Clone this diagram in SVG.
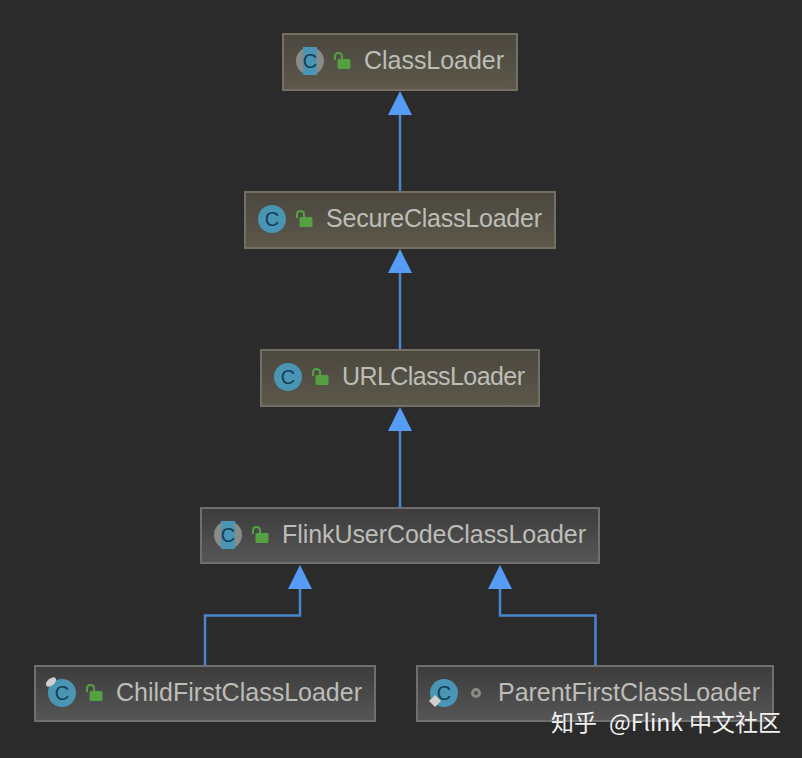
<svg xmlns="http://www.w3.org/2000/svg" width="802" height="758" viewBox="0 0 802 758">
<style>
.box{stroke-width:2}
.olive{fill:url(#olive);stroke:#736f62}
.grey{fill:url(#grey);stroke:#6f6f6f}
.label{font-family:"Liberation Sans","DejaVu Sans",sans-serif;font-size:25px;fill:#bdbdb7}
.c{font-family:"Liberation Sans",sans-serif;font-size:20px;fill:#123f57;text-anchor:middle}
.circ{fill:#4a95b3}
.conn{fill:none;stroke:#4a86cf;stroke-width:2.5}
.head{fill:#549cf5}
.lockb{fill:#55a043}
.locks{fill:none;stroke:#55a043;stroke-width:2}
.wm{font-family:"Noto Sans CJK SC","Noto Sans",sans-serif;font-size:23px;fill:#f2f2f2}
</style>
<defs>
<linearGradient id="olive" x1="0" y1="0" x2="0" y2="1"><stop offset="0" stop-color="#4a473f"/><stop offset="1" stop-color="#5c584b"/></linearGradient>
<linearGradient id="grey" x1="0" y1="0" x2="0" y2="1"><stop offset="0" stop-color="#3c3c3c"/><stop offset="1" stop-color="#565656"/></linearGradient>
<g id="lock"><rect class="lockb" x="3.500" y="6" width="13" height="10" rx="1.500"/><path class="locks" d="M1 7V3.500Q1 0 4.500 0T8 3.500V6"/></g>
</defs>
<rect width="802" height="758" fill="#2b2b2b"/>
<g id="connectors">
<path class="conn" d="M400 191V112"/>
<path class="conn" d="M400 349V270"/>
<path class="conn" d="M400 507V428"/>
<path class="conn" d="M205 665V615.500H300V586"/>
<path class="conn" d="M595.500 665V615.500H500V586"/>
<path class="head" d="M400 91L412 115H388Z"/>
<path class="head" d="M400 249L412 273H388Z"/>
<path class="head" d="M400 407L412 431H388Z"/>
<path class="head" d="M300 565L312 589H288Z"/>
<path class="head" d="M500 565L512 589H488Z"/>
</g>
<g id="node-classloader">
<rect class="box olive" x="283" y="34" width="234" height="56"/>
<circle cx="310" cy="61" r="14" fill="#8a8a86"/><rect x="303" y="47" width="14" height="28" class="circ"/>
<text class="c" x="310" y="68">C</text>
<use href="#lock" x="334" y="53"/>
<text class="label" x="364" y="69" textLength="140">ClassLoader</text>
</g>
<g id="node-secureclassloader">
<rect class="box olive" x="245" y="192" width="310" height="56"/>
<circle cx="272" cy="219" r="14" class="circ"/>
<text class="c" x="272" y="226">C</text>
<use href="#lock" x="296" y="211"/>
<text class="label" x="326" y="227" textLength="216">SecureClassLoader</text>
</g>
<g id="node-urlclassloader">
<rect class="box olive" x="261" y="350" width="278" height="56"/>
<circle cx="288" cy="377" r="14" class="circ"/>
<text class="c" x="288" y="384">C</text>
<use href="#lock" x="312" y="369"/>
<text class="label" x="342" y="385" textLength="183">URLClassLoader</text>
</g>
<g id="node-flinkusercodeclassloader">
<rect class="box grey" x="201" y="508" width="398" height="55"/>
<circle cx="228" cy="535" r="14" fill="#8a8a86"/><rect x="221" y="521" width="14" height="28" class="circ"/>
<text class="c" x="228" y="542">C</text>
<use href="#lock" x="252" y="527"/>
<text class="label" x="282" y="543" textLength="304">FlinkUserCodeClassLoader</text>
</g>
<g id="node-childfirstclassloader">
<rect class="box grey" x="35" y="666" width="340" height="55"/>
<circle cx="62" cy="693" r="14" class="circ"/>
<text class="c" x="62" y="700">C</text>
<ellipse cx="51" cy="682" rx="6" ry="3.500" fill="#cfcfcf" transform="rotate(-40 51 682)"/>
<use href="#lock" x="86" y="685"/>
<text class="label" x="116" y="701" textLength="246">ChildFirstClassLoader</text>
</g>
<g id="node-parentfirstclassloader">
<rect class="box grey" x="417" y="666" width="356" height="55"/>
<circle cx="444" cy="693" r="14" class="circ"/>
<text class="c" x="444" y="700">C</text>
<path d="M435 695L441 701L435 707L429 701Z" fill="#d0d0d0"/>
<circle cx="476" cy="693" r="3.500" fill="none" stroke="#8a8a86" stroke-width="3"/>
<text class="label" x="498" y="701" textLength="262">ParentFirstClassLoader</text>
</g>
<text class="wm" x="551" y="731">知乎 <tspan x="609">@Flink </tspan><tspan x="689">中文社区</tspan></text>
</svg>
